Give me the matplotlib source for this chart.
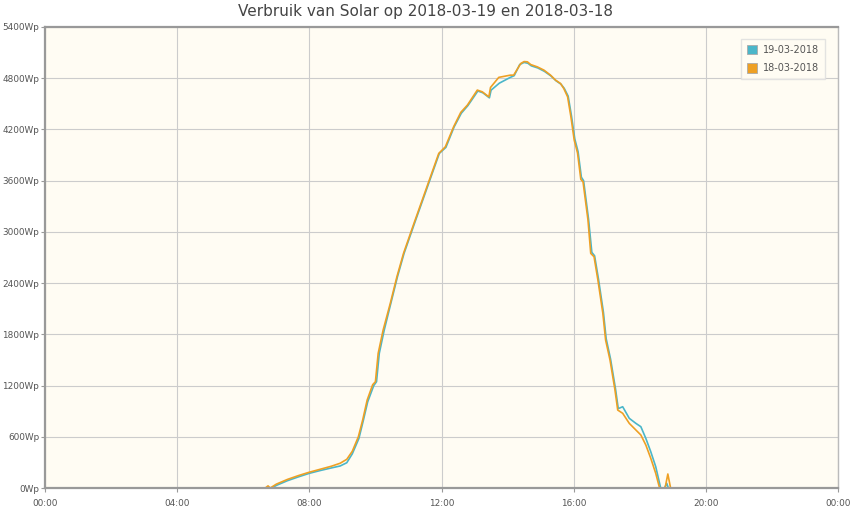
import matplotlib
matplotlib.use("Agg")
import matplotlib.pyplot as plt
from matplotlib.patches import Patch

title = "Verbruik van Solar op 2018-03-19 en 2018-03-18"
labels = ["19-03-2018", "18-03-2018"]
colors = ["#4bb6c9", "#eea024"]

times_19 = ["00:00", "06:52", "07:00", "07:20", "07:40", "08:00", "08:20", "08:40", "08:56", "09:08",
            "09:18", "09:30", "09:38", "09:46", "09:57", "10:02", "10:07", "10:16", "10:28", "10:40",
            "10:52", "11:11", "11:26", "11:41", "11:56", "12:08", "12:23", "12:36", "12:48", "13:06",
            "13:15", "13:27", "13:30", "13:45", "14:05", "14:12", "14:22", "14:30", "14:37", "14:43",
            "14:55", "15:07", "15:19", "15:28", "15:37", "15:43", "15:50", "15:56", "16:02", "16:08",
            "16:14", "16:18", "16:27", "16:33", "16:38", "16:45", "16:54", "16:59", "17:07", "17:16",
            "17:21", "17:29", "17:41", "17:53", "18:02", "18:11", "18:20", "18:29", "18:38", "18:45",
            "18:49", "18:52", "20:30"]
values_19 = [0, 0, 30, 85, 130, 172, 205, 235, 258, 296,
             400, 580, 790, 1010, 1200, 1245, 1577, 1850, 2163, 2474,
             2748, 3100, 3373, 3646, 3919, 3990, 4231, 4390, 4480, 4650,
             4630, 4570, 4660, 4742, 4810, 4830, 4960, 4985, 4975, 4945,
             4920, 4880, 4825, 4770, 4730, 4680, 4590, 4360, 4090, 3940,
             3640, 3600, 3150, 2760, 2720, 2450, 2060, 1750, 1510, 1160,
             930, 952, 816, 757, 718, 582, 425, 250, 0, 0,
             55, 0, 0]

times_18 = ["00:00", "06:40", "06:45", "06:49", "07:00", "07:20", "07:40", "08:00", "08:20", "08:40",
            "08:56", "09:08", "09:18", "09:29", "09:37", "09:45", "09:55", "10:00", "10:05", "10:14",
            "10:27", "10:39", "10:51", "11:10", "11:25", "11:40", "11:55", "12:07", "12:22", "12:35",
            "12:47", "13:05", "13:14", "13:26", "13:29", "13:44", "14:05", "14:11", "14:24", "14:30",
            "14:36", "14:42", "14:54", "15:06", "15:18", "15:27", "15:36", "15:42", "15:49", "15:55",
            "16:01", "16:07", "16:13", "16:17", "16:26", "16:31", "16:37", "16:44", "16:53", "16:58",
            "17:06", "17:15", "17:20", "17:29", "17:41", "17:53", "18:02", "18:11", "18:20", "18:29",
            "18:36", "18:46", "18:51", "18:56", "19:30"]
values_18 = [0, 0, 25, 0, 45, 100, 145, 185, 220, 255,
             290, 336, 430, 600, 800, 1030, 1210, 1245, 1577, 1850,
             2163, 2474, 2748, 3100, 3373, 3646, 3919, 3997, 4231, 4400,
             4485, 4661, 4641, 4582, 4692, 4810, 4836, 4836, 4973, 4995,
             4992, 4960, 4933, 4895, 4836, 4778, 4739, 4680, 4582, 4348,
             4075, 3925, 3615, 3587, 3138, 2748, 2709, 2436, 2046, 1733,
             1499, 1148, 913, 875, 757, 679, 621, 504, 348, 172,
             0, 0, 164, 0, 0]

x_ticks = [0, 4, 8, 12, 16, 20, 24]
x_tick_labels = ["00:00", "04:00", "08:00", "12:00", "16:00", "20:00", "00:00"]
y_ticks = [0, 600, 1200, 1800, 2400, 3000, 3600, 4200, 4800, 5400]
y_tick_labels = [f"{v}Wp" for v in y_ticks]


def to_hours(ts):
    out = []
    for t in ts:
        h, m = t.split(":")
        out.append(int(h) + int(m) / 60.0)
    return out


plt.rcParams["font.family"] = ["DejaVu Sans"]
fig = plt.figure(figsize=(8.5, 5.09), dpi=100)
ax = fig.add_axes([45 / 850, 21 / 509, (838 - 45) / 850, (488 - 27) / 509])
ax.set_facecolor("#fffcf3")

ax.plot(to_hours(times_19), values_19, color=colors[0], lw=1.2, zorder=3)
ax.plot(to_hours(times_18), values_18, color=colors[1], lw=1.2, zorder=4)

ax.set_xlim(0, 24)
ax.set_ylim(0, 5400)
ax.set_xticks(x_ticks)
ax.set_xticklabels(x_tick_labels)
ax.set_yticks(y_ticks)
ax.set_yticklabels(y_tick_labels)
ax.grid(True, color="#cccccc", lw=0.8, zorder=0)
ax.set_axisbelow(True)
for s in ax.spines.values():
    s.set_color("#999999")
    s.set_linewidth(1.6)
    s.set_zorder(5)
ax.spines["right"].set_linewidth(1.0)
ax.spines["right"].set_color("#bbbbbb")
ax.tick_params(axis="both", labelsize=6.4, colors="#999999", labelcolor="#555555",
               length=3, width=0.8, pad=1.2)
ax.tick_params(axis="x", pad=5)

fig.text(0.5, 0.992, title, ha="center", va="top", fontsize=11, color="#444444")

handles = [Patch(facecolor=c, edgecolor="#aaaaaa", lw=0.6) for c in colors]
leg = ax.legend(handles, labels, loc="upper right", bbox_to_anchor=(0.99, 0.985),
                fontsize=7, frameon=True, fancybox=False, handlelength=1.1, handleheight=1.1,
                handletextpad=0.6, borderpad=0.6, labelspacing=0.9, labelcolor="#555555")
leg.get_frame().set_edgecolor("#dddddd")
leg.get_frame().set_facecolor("#fffcf3")
leg.get_frame().set_linewidth(1.0)

fig.savefig("out.png", dpi=100)
